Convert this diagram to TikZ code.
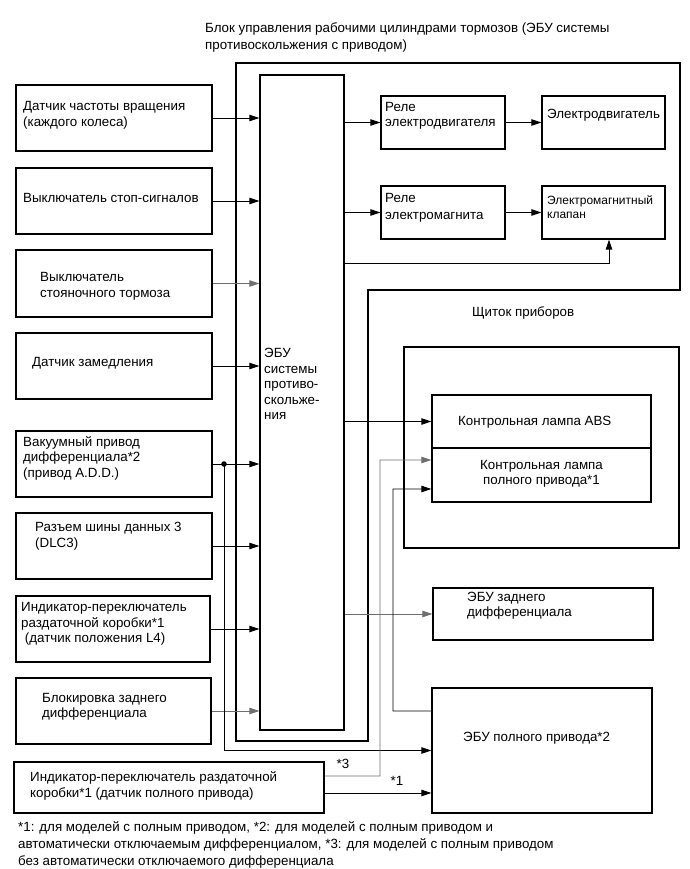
\documentclass[tikz,border=0pt]{standalone}
\usepackage{fontspec}
\setmainfont{Liberation Sans}
\usetikzlibrary{arrows.meta,calc}
\definecolor{lgray}{RGB}{110,110,110}
\begin{document}
\begin{tikzpicture}[x=1bp,y=-1bp,
  box/.style={draw, line width=1.3bp, inner sep=0pt, minimum width=#1},
  box/.default=196bp,
  txt/.style={inner sep=0pt, anchor=west, align=left, font=\fontsize{13.4}{15.5}\selectfont},
  arr/.style={line width=0.9bp, -{Triangle[length=10bp,width=6.5bp]}},
  garr/.style={arr, draw=lgray},
  ln/.style={line width=0.9bp}]
\useasboundingbox (0,0) rectangle (690,869);

% actuator outline
\draw[line width=1.3bp] (236,63) -- (680,63) -- (680,290) -- (368,290) -- (368,741) -- (236,741) -- cycle;

% left boxes
\node[box, minimum height=66bp] (s1) at (114,118) {};
\node[box, minimum height=66bp] (s2) at (114,201) {};
\node[box, minimum height=67bp] (s3) at (114,283.5) {};
\node[box, minimum height=66bp] (s4) at (114,366) {};
\node[box, minimum height=66bp] (s5) at (114,464) {};
\node[box, minimum height=66bp] (s6) at (114,546) {};
\node[box=194bp, minimum height=66bp] (s7) at (113,629) {};
\node[box=195bp, minimum height=66bp] (s8) at (113.5,711) {};
\node[box=310bp, minimum height=51bp] (s9) at (169,787.5) {};

% ECU
\node[box=84bp, minimum height=655bp] (ecu) at (302,402.5) {};

% right boxes
\node[box=124bp, minimum height=53bp] (r1) at (443,122.5) {};
\node[box=123bp, minimum height=53bp] (m1) at (603.5,122.5) {};
\node[box=124bp, minimum height=53bp] (r2) at (443,212.5) {};
\node[box=123bp, minimum height=53bp] (v2) at (603.5,212.5) {};
\node[box=275bp, minimum height=201bp] (panel) at (541.5,447.5) {};
\node[box=219bp, minimum height=53bp] (abs) at (541.5,421.5) {};
\node[box=219bp, minimum height=54bp] (l4wd) at (541.5,475) {};
\node[box=220bp, minimum height=52bp] (rdiff) at (543,614) {};
\node[box=220bp, minimum height=125bp] (awd) at (542,750.5) {};

% texts
\node[txt, font=\fontsize{13.4}{16.5}\selectfont] (title) at (205,37.5) {Блок управления рабочими цилиндрами тормозов (ЭБУ системы\\противоскольжения с приводом)};
\node[txt] (t1) at (23,115.5) {Датчик частоты вращения\\(каждого колеса)};
\node[txt] (t2) at (23,198) {Выключатель стоп-сигналов};
\node[txt] (t3) at (40,286.5) {Выключатель\\стояночного тормоза};
\node[txt] (t4) at (32,363) {Датчик замедления};
\node[txt] (t5) at (23,458) {Вакуумный привод\\дифференциала*2\\(привод A.D.D.)};
\node[txt] (t6) at (35,536) {Разъем шины данных 3\\(DLC3)};
\node[txt] (t7) at (21,624) {Индикатор-переключатель\\раздаточной коробки*1\\\ (датчик положения L4)};
\node[txt] (t8) at (42,707) {Блокировка заднего\\дифференциала};
\node[txt] (t9) at (30,786) {Индикатор-переключатель раздаточной\\коробки*1 (датчик полного привода)};
\node[txt, font=\fontsize{13.4}{15.6}\selectfont] (tecu) at (264,384) {ЭБУ\\системы\\противо-\\скольже-\\ния};
\node[txt] (tr1) at (385,116) {Реле\\электродвигателя};
\node[txt] (tm1) at (547,115) {Электродвигатель};
\node[txt, font=\fontsize{13.4}{17}\selectfont] (tr2) at (385,208) {Реле\\электромагнита};
\node[txt, font=\fontsize{12}{14}\selectfont] (tv2) at (547,207) {Электромагнитный\\клапан};
\node[txt] (tpanel) at (472,313) {Щиток приборов};
\node[txt] (tabs) at (458,422) {Контрольная лампа ABS};
\node[txt, anchor=center, align=center] (tl4) at (541.5,474) {Контрольная лампа\\полного привода*1};
\node[txt] (trd) at (467,605.5) {ЭБУ заднего\\дифференциала};
\node[txt] (tawd) at (463,738) {ЭБУ полного привода*2};
\node[txt, anchor=center] (lab3) at (343,764) {*3};
\node[txt, anchor=center] (lab1) at (397,781) {*1};
\node[txt, font=\fontsize{13.4}{17}\selectfont] (foot) at (18,845) {*1: для моделей с полным приводом, *2: для моделей с полным приводом и\\автоматически отключаемым дифференциалом, *3: для моделей с полным приводом\\без автоматически отключаемого дифференциала};

% inputs to ECU
\draw[arr] (s1.east) -- (s1.east -| ecu.west);
\draw[arr] (s2.east) -- (s2.east -| ecu.west);
\draw[garr] (s3.east) -- (s3.east -| ecu.west);
\draw[arr] (s4.east) -- (s4.east -| ecu.west);
\draw[arr] (s5.east) -- (s5.east -| ecu.west);
\draw[arr] (s6.east) -- (s6.east -| ecu.west);
\draw[arr] (s7.east) -- (s7.east -| ecu.west);
\draw[garr] (s8.east) -- (s8.east -| ecu.west);

% outputs of ECU
\draw[arr] (r1.west -| ecu.east) -- (r1.west);
\draw[arr] (r1.east) -- (m1.west);
\draw[arr] (r2.west -| ecu.east) -- (r2.west);
\draw[arr] (r2.east) -- (v2.west);
\coordinate (sv) at (609,263);
\draw[arr] (sv -| ecu.east) -- (sv) -- (sv |- v2.south);
\draw[arr] (abs.west -| ecu.east) -- (abs.west);
\draw[garr] (rdiff.west -| ecu.east) -- (rdiff.west);

% A.D.D. branch to 4WD ECU
\coordinate (j) at (224,464);
\fill (j) circle (2.8bp);
\draw[arr] (j) |- (awd.west);

% *3 line
\coordinate (k3) at (380,460);
\draw[garr] ([yshift=11.5bp]s9.east) -| (k3) -- ([yshift=15bp]l4wd.west);

% 4WD ECU to lamp
\coordinate (k4) at (393,489);
\draw[arr] ([yshift=39.5bp]awd.west) -| (k4) -- ([yshift=-14bp]l4wd.west);

% *1 line
\coordinate (p1) at ([yshift=-5.5bp]s9.east);
\draw[arr] (p1) -- (p1 -| awd.west);
\end{tikzpicture}
\end{document}
